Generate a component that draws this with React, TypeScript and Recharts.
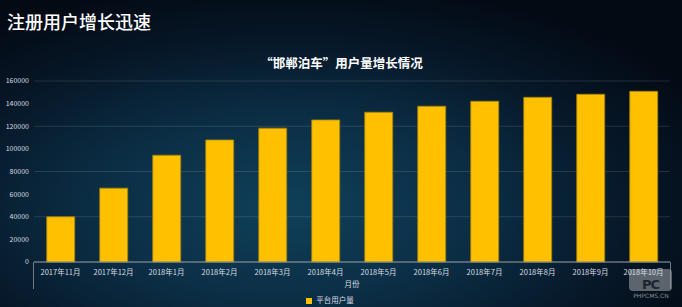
import React from 'react';
import { BarChart, Bar, XAxis, YAxis, CartesianGrid, Legend } from 'recharts';

// months on the x axis
const months = [
  '2017年11月', '2017年12月', '2018年1月', '2018年2月', '2018年3月', '2018年4月',
  '2018年5月', '2018年6月', '2018年7月', '2018年8月', '2018年9月', '2018年10月'
];
// platform users
const users = [40000, 65300, 94400, 107900, 118300, 125600, 132400, 137700, 142100, 145600, 148300, 150900];
const yTicks = [0, 20000, 40000, 60000, 80000, 100000, 120000, 140000, 160000];

const data = months.map((m, i) => ({ month: m, users: users[i] }));

const font = '"Noto Sans CJK SC", "Noto Sans", sans-serif';

export default function App() {
  return (
    <div
      style={{
        position: 'absolute',
        left: 0,
        top: 0,
        width: 682,
        height: 307,
        overflow: 'hidden',
        fontFamily: font,
        background:
          'radial-gradient(ellipse 70% 75% at 42% 68%, #0f4059 0%, #0b2e45 40%, #061626 75%, #030a14 100%)'
      }}
    >
      <div
        style={{
          position: 'absolute',
          left: 7,
          top: 9,
          fontSize: 18,
          color: '#ffffff',
          fontWeight: 500,
          lineHeight: '24px'
        }}
      >
        注册用户增长迅速
      </div>
      <div
        style={{
          position: 'absolute',
          left: 0,
          width: 683,
          top: 54,
          textAlign: 'center',
          fontSize: 12.5,
          color: '#ffffff',
          fontWeight: 700,
          lineHeight: '18px'
        }}
      >
        “邯郸泊车”用户量增长情况
      </div>
      {/* category axis box sides */}
      <div style={{ position: 'absolute', left: 33, top: 262, width: 1, height: 27, background: '#6f7a82' }} />
      <div style={{ position: 'absolute', left: 670, top: 262, width: 1, height: 27, background: '#6f7a82' }} />
      {/* watermark box, behind the chart texts */}
      <div
        style={{
          position: 'absolute',
          left: 629,
          top: 269,
          width: 43,
          height: 22,
          borderRadius: 4,
          background: 'rgba(150,155,160,0.6)'
        }}
      />
      <BarChart
        width={682}
        height={307}
        data={data}
        margin={{ top: 81, right: 12, left: 0, bottom: 0 }}
        barCategoryGap="24%"
        style={{ position: 'absolute', left: 0, top: 0 }}
      >
        <CartesianGrid vertical={false} stroke="rgba(255,255,255,0.12)" />
        <XAxis
          dataKey="month"
          tick={{ fill: '#d8dde2', fontSize: 7.5, fontFamily: font }}
          tickLine={false}
          axisLine={{ stroke: '#8c969e' }}
          tickMargin={2}
          interval={0}
          height={30}
          label={{ value: '月份', position: 'insideBottom', offset: 5, fill: '#d8dde2', fontSize: 7.5, fontFamily: font }}
        />
        <YAxis
          domain={[0, 160000]}
          ticks={yTicks}
          width={34}
          tick={{ fill: '#d8dde2', fontSize: 7, fontFamily: font }}
          tickLine={false}
          axisLine={false}
          tickSize={0}
          tickMargin={5}
        />
        <Legend
          verticalAlign="bottom"
          height={15}
          iconType="square"
          iconSize={6}
          wrapperStyle={{ fontSize: 7.5, color: '#d8dde2', fontFamily: font, lineHeight: '15px' }}
          formatter={(v) => <span style={{ color: '#d8dde2' }}>{v}</span>}
        />
        <Bar
          dataKey="users"
          name="平台用户量"
          fill="#ffc000"
          stroke="#a0800f"
          strokeWidth={0.8}
          isAnimationActive={false}
        />
      </BarChart>
      <div
        style={{
          position: 'absolute',
          left: 629,
          top: 279,
          width: 43,
          color: '#1b2530',
          fontFamily: '"DejaVu Sans", sans-serif',
          fontWeight: 700,
          fontSize: 13,
          lineHeight: '11px',
          height: 11,
          textAlign: 'center',
          letterSpacing: -1
        }}
      >
        PC
      </div>
      <div
        style={{
          position: 'absolute',
          left: 628,
          top: 292,
          width: 46,
          textAlign: 'center',
          fontSize: 6,
          color: 'rgba(170,175,180,0.8)',
          fontFamily: '"DejaVu Sans", sans-serif',
          lineHeight: '8px'
        }}
      >
        PHPCMS.CN
      </div>
    </div>
  );
}
